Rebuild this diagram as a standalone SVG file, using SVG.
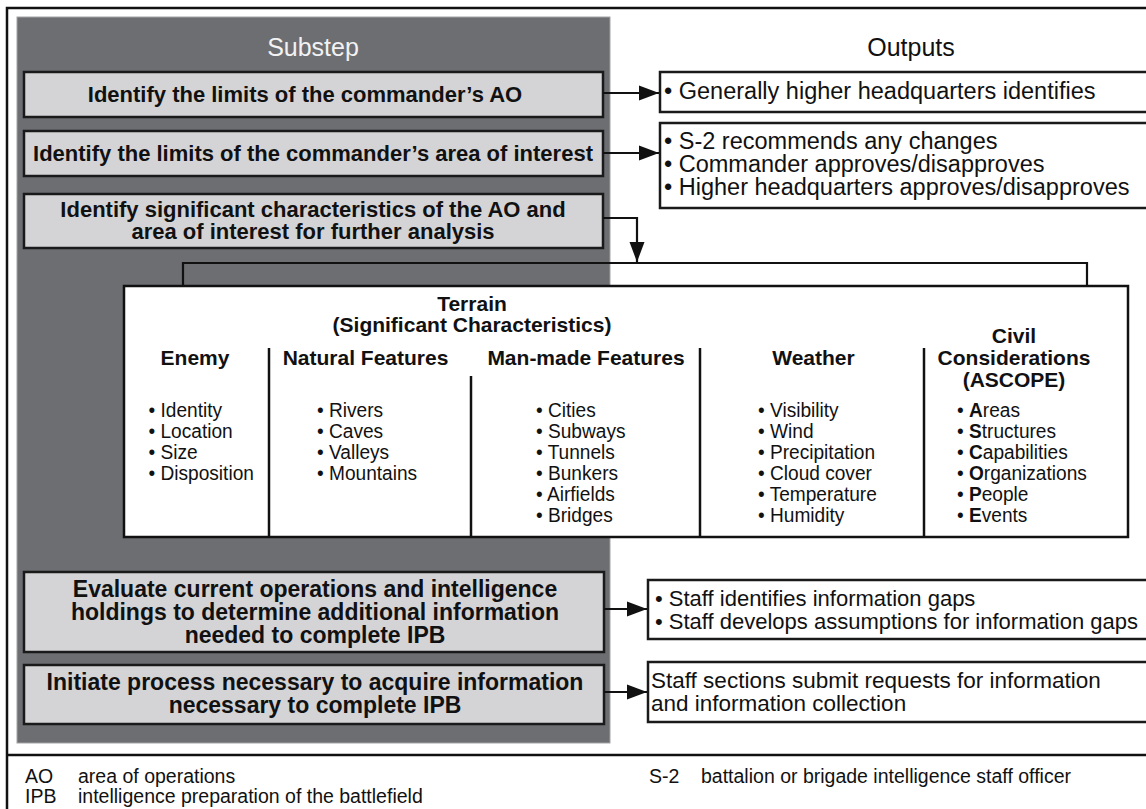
<svg xmlns="http://www.w3.org/2000/svg" width="1146" height="809" viewBox="0 0 1146 809">
<defs>
<marker id="ah" markerUnits="userSpaceOnUse" markerWidth="20" markerHeight="16" refX="20" refY="8" orient="auto">
<path d="M0,0.5 L20,8 L0,15.5 z" fill="#111"/>
</marker>
<style>
text{font-family:"Liberation Sans",Arial,sans-serif;fill:#111}
.hdr{font-size:25px;text-anchor:middle}
.sub{fill:#d4d4d6;stroke:#1a1a1a;stroke-width:2.5}
.st{font-size:22px;font-weight:bold;text-anchor:middle}
.st2{font-size:23px;font-weight:bold;text-anchor:middle}
.out{fill:#fff;stroke:#1a1a1a;stroke-width:2.5}
.ot{font-size:23.5px}
.ot4{font-size:22px}
.ot5{font-size:22.5px}
.th{font-size:21px;font-weight:bold;text-anchor:middle}
.li{font-size:21px}
.ft{font-size:19.5px}
.conn{fill:none;stroke:#111;stroke-width:2.2}
.div{stroke:#111;stroke-width:2.5}
</style>
</defs>
<rect x="0" y="0" width="1146" height="809" fill="#fff"/>
<rect x="7" y="8" width="1160" height="830" fill="none" stroke="#111" stroke-width="2.5"/>
<line x1="7" y1="755" x2="1146" y2="755" stroke="#111" stroke-width="2.5"/>
<g id="panel">
<rect x="17" y="17" width="593" height="726" fill="#6d6e72" stroke="#a3a3a6" stroke-width="1"/>
<text class="hdr" x="313" y="56" style="fill:#f2f2f2">Substep</text>
<text class="hdr" x="911" y="56">Outputs</text>
</g>
<g id="s1">
<rect class="sub" x="24" y="72" width="579" height="45"/>
<text class="st" x="305" y="102">Identify the limits of the commander’s AO</text>
</g>
<g id="s2">
<rect class="sub" x="24" y="131" width="579" height="45"/>
<text class="st" x="313" y="161">Identify the limits of the commander’s area of interest</text>
</g>
<g id="s3">
<rect class="sub" x="24" y="194" width="579" height="54"/>
<text class="st" x="313" y="217">Identify significant characteristics of the AO and</text>
<text class="st" x="313" y="239">area of interest for further analysis</text>
</g>
<g id="s4">
<rect class="sub" x="24" y="572" width="580" height="80"/>
<text class="st2" x="315" y="597">Evaluate current operations and intelligence</text>
<text class="st2" x="315" y="620">holdings to determine additional information</text>
<text class="st2" x="315" y="643">needed to complete IPB</text>
</g>
<g id="s5">
<rect class="sub" x="24" y="665" width="580" height="59"/>
<text class="st2" x="315" y="690">Initiate process necessary to acquire information</text>
<text class="st2" x="315" y="713">necessary to complete IPB</text>
</g>
<g id="o1">
<rect class="out" x="660" y="72" width="500" height="40"/>
<text class="ot" x="664" y="99">• Generally  higher headquarters identifies</text>
</g>
<g id="o2">
<rect class="out" x="660" y="123" width="500" height="85"/>
<text class="ot" x="664" y="149">• S-2 recommends any changes</text>
<text class="ot" x="664" y="172">• Commander approves/disapproves</text>
<text class="ot" x="664" y="195">• Higher headquarters approves/disapproves</text>
</g>
<g id="o4">
<rect class="out" x="648" y="580" width="510" height="59"/>
<text class="ot4" x="655" y="606">• Staff identifies information gaps</text>
<text class="ot4" x="655" y="629">• Staff develops assumptions for information gaps</text>
</g>
<g id="o5">
<rect class="out" x="648" y="662" width="510" height="60"/>
<text class="ot5" x="651" y="688">Staff sections submit requests for information</text>
<text class="ot5" x="651" y="711">and information collection</text>
</g>
<g id="terrain">
<rect x="124" y="286" width="1004" height="251" fill="#fff" stroke="#111" stroke-width="2.5"/>
<text class="th" x="472" y="311">Terrain</text>
<text class="th" x="472" y="332">(Significant Characteristics)</text>
<text class="th" x="195" y="365">Enemy</text>
<text class="th" x="365.5" y="365">Natural Features</text>
<text class="th" x="586" y="365">Man-made Features</text>
<text class="th" x="813.5" y="365">Weather</text>
<text class="th" x="1014" y="343">Civil</text>
<text class="th" x="1014" y="365">Considerations</text>
<text class="th" x="1014" y="387">(ASCOPE)</text>
<line class="div" x1="269" y1="348" x2="269" y2="537"/>
<line class="div" x1="471" y1="376" x2="471" y2="537"/>
<line class="div" x1="700" y1="348" x2="700" y2="537"/>
<line class="div" x1="924" y1="348" x2="924" y2="537"/>
<g transform="translate(148.5,0) scale(0.91,1)">
<text class="li" x="0" y="417">• Identity</text>
<text class="li" x="0" y="438">• Location</text>
<text class="li" x="0" y="459">• Size</text>
<text class="li" x="0" y="480">• Disposition</text>
</g>
<g transform="translate(317,0) scale(0.91,1)">
<text class="li" x="0" y="417">• Rivers</text>
<text class="li" x="0" y="438">• Caves</text>
<text class="li" x="0" y="459">• Valleys</text>
<text class="li" x="0" y="480">• Mountains</text>
</g>
<g transform="translate(536,0) scale(0.91,1)">
<text class="li" x="0" y="417">• Cities</text>
<text class="li" x="0" y="438">• Subways</text>
<text class="li" x="0" y="459">• Tunnels</text>
<text class="li" x="0" y="480">• Bunkers</text>
<text class="li" x="0" y="501">• Airfields</text>
<text class="li" x="0" y="522">• Bridges</text>
</g>
<g transform="translate(758,0) scale(0.91,1)">
<text class="li" x="0" y="417">• Visibility</text>
<text class="li" x="0" y="438">• Wind</text>
<text class="li" x="0" y="459">• Precipitation</text>
<text class="li" x="0" y="480">• Cloud cover</text>
<text class="li" x="0" y="501">• Temperature</text>
<text class="li" x="0" y="522">• Humidity</text>
</g>
<g transform="translate(957,0) scale(0.91,1)">
<text class="li" x="0" y="417">• <tspan font-weight="bold">A</tspan>reas</text>
<text class="li" x="0" y="438">• <tspan font-weight="bold">S</tspan>tructures</text>
<text class="li" x="0" y="459">• <tspan font-weight="bold">C</tspan>apabilities</text>
<text class="li" x="0" y="480">• <tspan font-weight="bold">O</tspan>rganizations</text>
<text class="li" x="0" y="501">• <tspan font-weight="bold">P</tspan>eople</text>
<text class="li" x="0" y="522">• <tspan font-weight="bold">E</tspan>vents</text>
</g>
</g>
<g id="connectors">
<line class="conn" x1="603" y1="93" x2="659" y2="93" marker-end="url(#ah)"/>
<line class="conn" x1="603" y1="153" x2="659" y2="153" marker-end="url(#ah)"/>
<path class="conn" d="M603,218 H637 V262" marker-end="url(#ah)"/>
<path class="conn" d="M183,286 V263 H1087 V286"/>
<line class="conn" x1="604" y1="609" x2="647" y2="609" marker-end="url(#ah)"/>
<line class="conn" x1="604" y1="692" x2="647" y2="692" marker-end="url(#ah)"/>
</g>
<g id="legend">
<text class="ft" x="25" y="783">AO</text>
<text class="ft" x="78" y="783">area of operations</text>
<text class="ft" x="25" y="803">IPB</text>
<text class="ft" x="78" y="803">intelligence preparation of the battlefield</text>
<text class="ft" x="649" y="783">S-2</text>
<text class="ft" x="701" y="783">battalion or brigade intelligence staff officer</text>
</g>
</svg>
